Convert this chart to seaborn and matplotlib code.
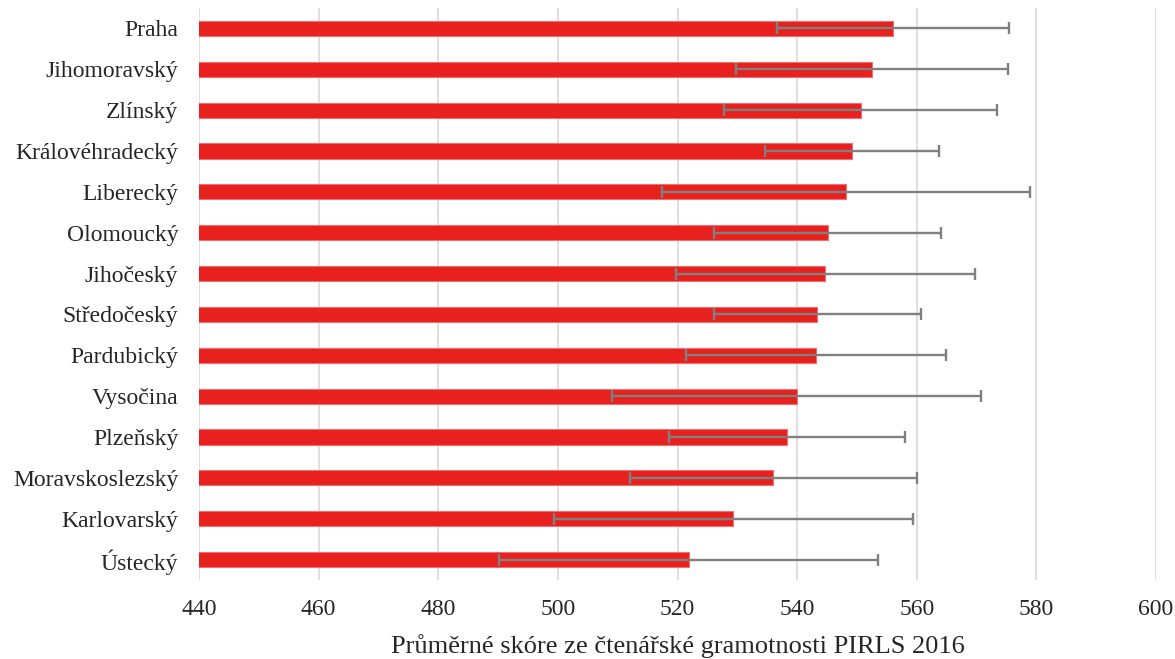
"""PIRLS 2016 reading literacy by Czech region, mean score with error bars."""

import matplotlib
matplotlib.use("Agg")
import matplotlib.pyplot as plt
import pandas as pd
import seaborn as sns

REGIONS = [
    "Praha", "Jihomoravský", "Zlínský", "Královéhradecký", "Liberecký",
    "Olomoucký", "Jihočeský", "Středočeský", "Pardubický", "Vysočina",
    "Plzeňský", "Moravskoslezský", "Karlovarský", "Ústecký",
]
MEAN_SCORE = [556.1, 552.5, 550.6, 549.2, 548.2, 545.1, 544.7, 543.4,
              543.2, 539.9, 538.3, 536.0, 529.3, 521.9]
ERROR = [19.4, 22.7, 22.8, 14.6, 30.8, 19.0, 25.0, 17.3,
         21.7, 30.8, 19.8, 24.0, 30.0, 31.7]
X_TICKS = [440, 460, 480, 500, 520, 540, 560, 580, 600]

BAR_RED = "#e8201e"
ERR_GREY = "#808080"

sns.set_theme(style="whitegrid")
plt.rcParams["font.family"] = ["Liberation Serif", "DejaVu Serif"]

df = pd.DataFrame({"region": REGIONS, "score": MEAN_SCORE, "err": ERROR})

fig = plt.figure(figsize=(11.75, 6.59), dpi=100)
ax = fig.add_axes([199 / 1175, 1 - 580 / 659, (1156 - 199) / 1175, 572 / 659])

sns.barplot(data=df, y="region", x="score", ax=ax, color=BAR_RED,
            width=0.37, saturation=1, edgecolor="#f07070", linewidth=0.8)
ax.errorbar(df["score"], range(len(df)), xerr=df["err"], fmt="none",
            ecolor=ERR_GREY, elinewidth=1.7, capsize=4.5, capthick=1.7, zorder=3)

ax.set_xlim(440, 600)
ax.set_xticks(X_TICKS)
ax.set_ylim(len(df) - 0.5, -0.5)
ax.set_ylabel("")
ax.set_xlabel("Průměrné skóre ze čtenářské gramotnosti PIRLS 2016",
              fontsize=19, labelpad=10)
ax.tick_params(axis="y", labelsize=17, pad=15, length=0)
ax.tick_params(axis="x", labelsize=17, pad=14, length=0)
ax.grid(axis="y", visible=False)
ax.grid(axis="x", color="#d9d9d9", linewidth=1.2)
for side in ax.spines.values():
    side.set_visible(False)

fig.savefig("out.png", dpi=100)
